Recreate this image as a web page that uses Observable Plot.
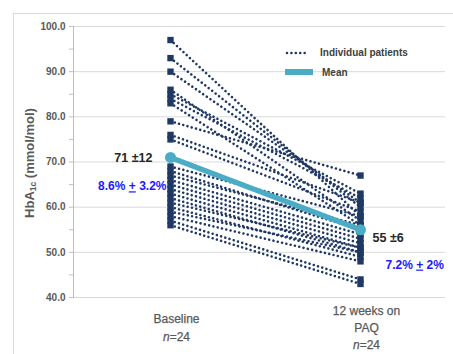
<!DOCTYPE html>
<html><head><meta charset="utf-8">
<script src="https://cdn.jsdelivr.net/npm/d3@7"></script>
<script src="https://cdn.jsdelivr.net/npm/@observablehq/plot@0.6"></script>
<style>
body{margin:0;background:#fff;font-family:"Liberation Sans",Arial,sans-serif;}
#wrap{position:relative;width:453px;height:354px;overflow:hidden;background:#fff;}
#border{position:absolute;left:13px;top:13px;width:445px;height:345px;border:1px solid #d9d9d9;}
#chart{position:absolute;left:0;top:0;}
.ytitle{position:absolute;left:30px;top:163px;transform:translate(-50%,-50%) rotate(-90deg);white-space:nowrap;font-size:13px;font-weight:bold;color:#595959;}
.ytitle sub{font-size:8.5px;vertical-align:-2px;}
.lgtext{position:absolute;font-size:10px;font-weight:bold;color:#404040;white-space:nowrap;line-height:12px;}
.sw{position:absolute;}
</style></head><body>
<div id="wrap">
<div id="border"></div>
<div id="chart"></div>
<div class="ytitle">HbA<sub>1c</sub> (mmol/mol)</div>
<svg class="sw" style="left:284px;top:47px" width="28" height="12"><line x1="3" x2="23" y1="6" y2="6" stroke="#1f3864" stroke-width="2.6" stroke-dasharray="0.01,4.4" stroke-linecap="round"/></svg>
<div class="lgtext" style="left:320px;top:47px">Individual patients</div>
<svg class="sw" style="left:285px;top:69px" width="30" height="8"><rect x="0" y="0" width="28" height="6" fill="#4bacc6"/></svg>
<div class="lgtext" style="left:322px;top:67px">Mean</div>
</div>
<script>
const categories = ["Baseline", "12 weeks on PAQ"];
const tickLabels = ["Baseline\nn=24", "12 weeks on\nPAQ\nn=24"];
const baseline = [97, 93, 90, 86, 85, 84, 83, 79, 76, 75, 69, 68, 67, 66, 65, 64, 63, 62, 61, 60, 59, 58, 57, 56];
const week12   = [58, 60, 61, 57, 63, 62, 56, 67, 61, 59, 58, 55, 56, 54, 53, 52, 51, 50, 51, 49, 50, 48, 44, 43];
const meanValues = [71, 55];
const meanLabels = ["71 ±12", "55 ±6"];
const pctLabels = ["8.6% + 3.2%", "7.2% + 2%"];
const yGridTicks = [40, 50, 60, 70, 80, 90, 100];
const yAxisTicks = [40, 45, 50, 55, 60, 65, 70, 75, 80, 85, 90, 95, 100];

const patients = baseline.flatMap((b, i) => [
  {id: i, t: categories[0], v: b},
  {id: i, t: categories[1], v: week12[i]}
]);
const meanRows = categories.map((t, i) => ({t, v: meanValues[i], label: meanLabels[i], pct: pctLabels[i]}));
const ticks = categories.map((t, i) => ({t, label: tickLabels[i]}));

const navy = "#1f3864", teal = "#4bacc6";
const chart = Plot.plot({
  width: 453, height: 354,
  marginTop: 26, marginBottom: 57, marginLeft: 73, marginRight: 8,
  x: {type: "point", domain: categories, range: [170, 360], padding: 0, axis: null},
  y: {domain: [40, 100], axis: null},
  style: {fontFamily: "'Liberation Sans', Arial, sans-serif", background: "transparent", overflow: "visible"},
  marks: [
    Plot.gridY(yGridTicks, {stroke: "#d9d9d9", strokeOpacity: 1, strokeWidth: 1}),
    Plot.frame({anchor: "left", stroke: "#bfbfbf"}),
    Plot.axisY(yAxisTicks, {label: null, tickSize: 4, tickPadding: 4, stroke: "#bfbfbf", fill: "#595959",
      fontSize: 10, fontWeight: "bold", tickFormat: d => d % 10 === 0 ? d.toFixed(1) : ""}),
    Plot.line(patients, {x: "t", y: "v", z: "id", stroke: navy, strokeWidth: 2.6,
      strokeDasharray: "0.01,4.4", strokeLinecap: "round"}),
    Plot.dot(patients, {x: "t", y: "v", symbol: "square", r: 3.6, fill: navy}),
    Plot.line(meanRows, {x: "t", y: "v", stroke: teal, strokeWidth: 5.5}),
    Plot.dot(meanRows, {x: "t", y: "v", r: 5.5, fill: teal}),
    Plot.text(meanRows.slice(0, 1), {x: "t", y: "v", text: "label", textAnchor: "end", dx: -18, dy: 1,
      fontSize: 12.5, fontWeight: "bold", fill: "#262626"}),
    Plot.text(meanRows.slice(0, 1), {x: "t", y: "v", text: "pct", textAnchor: "end", dx: -4, dy: 29,
      fontSize: 12, fontWeight: "bold", fill: "#1a1aff"}),
    Plot.text(meanRows.slice(1), {x: "t", y: "v", text: "label", textAnchor: "start", dx: 12, dy: 8,
      fontSize: 12.5, fontWeight: "bold", fill: "#262626"}),
    Plot.text(meanRows.slice(1), {x: "t", y: "v", text: "pct", textAnchor: "start", dx: 25, dy: 35,
      fontSize: 12, fontWeight: "bold", fill: "#1a1aff"}),
    Plot.text(ticks, {x: "t", text: "label", frameAnchor: "bottom", lineAnchor: "middle", dy: 29, dx: 6,
      lineHeight: 1.45, fontSize: 12, fill: "#595959", stroke: "#595959", strokeWidth: 0.25})
  ]
});
document.getElementById("chart").append(chart);

// italic "n" and underlined plus sign
d3.select(chart).selectAll("tspan").each(function() {
  if (this.childElementCount === 0 && this.textContent === "n=24") {
    this.innerHTML = '<tspan font-style="italic">n</tspan>=24';
  }
});
d3.select(chart).selectAll("text").each(function() {
  if (this.childElementCount === 0 && this.textContent.includes(" + ")) {
    const [a, b] = this.textContent.split(" + ");
    this.textContent = "";
    d3.select(this).append("tspan").text(a + " ");
    d3.select(this).append("tspan").attr("text-decoration", "underline").text("+");
    d3.select(this).append("tspan").text(" " + b);
  }
});
</script>
</body></html>
